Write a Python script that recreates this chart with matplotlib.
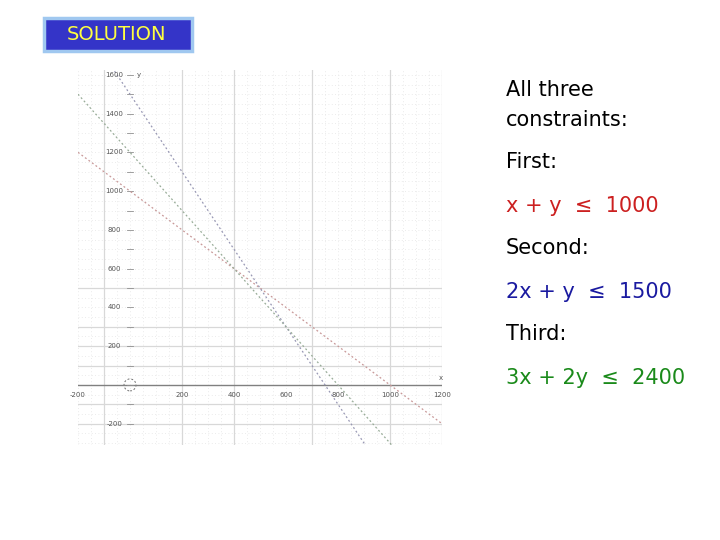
import numpy as np
import matplotlib.pyplot as plt
from matplotlib.patches import Ellipse, Rectangle

# Data
x_ticks = [-200, 200, 400, 600, 800, 1000, 1200]
y_ticks = [1600, 1400, 1200, 1000, 800, 600, 400, 200, -200]
major_vx = [-100, 200, 400, 700, 1000, 1200]
major_hy = [500, 300, 200, 100, -100, -200]

# constraints a*x + b*y <= c
con_a = [1, 2, 3]
con_b = [1, 1, 2]
con_c = [1000, 1500, 2400]
line_colors = ['#c89898', '#9898b4', '#98ac98']

side_text = ['All three', 'constraints:', 'First:', 'x + y  \u2264  1000',
             'Second:', '2x + y  \u2264  1500', 'Third:',
             '3x + 2y  \u2264  2400']
side_colors = ['black', 'black', 'black', '#cc2020', 'black', '#1a1aa0',
               'black', '#1a8a1a']
side_y = [90, 120, 162, 206, 248, 292, 334, 378]

fig = plt.figure(figsize=(7.2, 5.4), dpi=100)

# SOLUTION box
fig.patches.append(Rectangle((44 / 720, 1 - 51 / 540), 148 / 720, 33 / 540,
                             transform=fig.transFigure, fc='#3434c8',
                             ec='#a0c8f0', lw=2.5))
fig.text(117 / 720, 1 - 34 / 540, 'SOLUTION', color='#ffff40', fontsize=14,
         ha='center', va='center', family='DejaVu Sans')

ax = fig.add_axes([78 / 720, 1 - 445 / 540, 364 / 720, 375 / 540])
ax.set_xlim(-200, 1200)
ax.set_ylim(-310, 1625)
for s in ax.spines.values():
    s.set_visible(False)
ax.set_xticks([])
ax.set_yticks([])

# dotted minor grid
for gx in np.arange(-200, 1201, 50):
    ax.axvline(gx, color='#e4e4e4', lw=0.6, ls=(0, (1, 3)))
for gy in np.arange(-300, 1601, 50):
    ax.axhline(gy, color='#e4e4e4', lw=0.6, ls=(0, (1, 3)))
# major grid
for gx in major_vx:
    ax.axvline(gx, color='#d8d8d8', lw=0.9)
for gy in major_hy:
    ax.axhline(gy, color='#d8d8d8', lw=0.9)

ax.axhline(0, color='#808080', lw=1.0)
for gy in np.arange(-200, 1601, 100):
    ax.plot([-12, 12], [gy, gy], color='#909090', lw=0.6)

for t in x_ticks:
    ax.text(t, -50, str(t), fontsize=5, color='#555555', ha='center',
            va='center')
for t in y_ticks:
    ax.text(-60, t, str(t), fontsize=5, color='#555555', ha='center',
            va='center')
ax.text(35, 1600, 'y', fontsize=5, color='#555555', ha='center',
        va='center')
ax.text(1195, 35, 'x', fontsize=5, color='#555555', ha='center',
        va='center')

ax.add_patch(Ellipse((0, 0), 46, 62, fill=False, ec='#707070', lw=0.7,
                     ls=(0, (2, 2))))

xs = np.array([-200, 1200])
for a, b, c, col in zip(con_a, con_b, con_c, line_colors):
    ax.plot(xs, (c - a * xs) / b, color=col, lw=0.9, ls=(0, (1.5, 2)))

for txt, col, yy in zip(side_text, side_colors, side_y):
    fig.text(506 / 720, 1 - yy / 540, txt, color=col, fontsize=15,
             ha='left', va='center', family='DejaVu Sans')

plt.savefig('out.png', dpi=100)
